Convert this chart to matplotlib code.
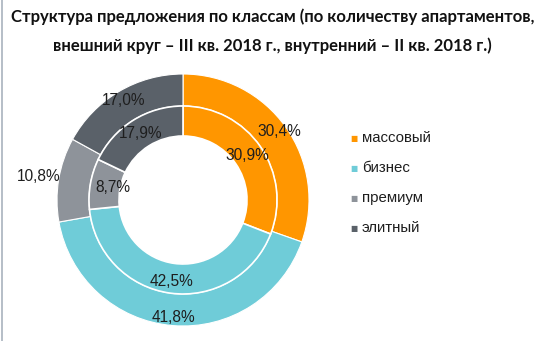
import numpy as np
import matplotlib
matplotlib.use("Agg")
import matplotlib.pyplot as plt
from matplotlib.lines import Line2D

title = "Структура предложения по классам (по количеству апартаментов,\nвнешний круг – III кв. 2018 г., внутренний – II кв. 2018 г.)"
categories = ["массовый", "бизнес", "премиум", "элитный"]
outer_q3 = [30.4, 41.8, 10.8, 17.0]
inner_q2 = [30.9, 42.5, 8.7, 17.9]
colors = ["#FF9600", "#6FCCD8", "#8E939A", "#5A6169"]

W, H = 545, 341
fig = plt.figure(figsize=(W / 100, H / 100), dpi=100)
fig.patch.set_facecolor("white")

# left border line
fig.add_artist(Line2D([1.5 / W, 1.5 / W], [0, 1], color="#A9B3BD", lw=1.2))

fig.text(0.5, 1 - 17 / H, title.split("\n")[0], ha="center", va="center",
         fontsize=12, fontweight="bold", family=["Lato", "DejaVu Sans"], color="#111111")
fig.text(0.5, 1 - 46 / H, title.split("\n")[1], ha="center", va="center",
         fontsize=12, fontweight="bold", family=["Lato", "DejaVu Sans"], color="#111111")

cx, cy, R = 183, 200, 126
ax = fig.add_axes([(cx - R) / W, (H - cy - R) / H, 2 * R / W, 2 * R / H])
r_out, r_mid, r_in = 1.0, 94 / R, 64 / R

ax.pie(outer_q3, radius=r_out, colors=colors, startangle=90, counterclock=False,
       wedgeprops=dict(width=r_out - r_mid, edgecolor="white", linewidth=0.8))
ax.pie(inner_q2, radius=r_mid, colors=colors, startangle=90, counterclock=False,
       wedgeprops=dict(width=r_mid - r_in, edgecolor="white", linewidth=1.2))
ax.set_xlim(-1, 1)
ax.set_ylim(-1, 1)
ax.set_aspect("equal")
ax.axis("off")


def mid_angles(vals):
    vals = np.asarray(vals, dtype=float)
    cum = np.cumsum(vals) / vals.sum() * 360
    start = np.concatenate([[0], cum[:-1]])
    return 90 - (start + cum) / 2


def fmt(v):
    return f"{v:.1f}%".replace(".", ",")

outer_r = [118, 118, 146, 116]
inner_r = [78, 82, 71, 79]
for vals, radii in ((outer_q3, outer_r), (inner_q2, inner_r)):
    for v, a, rr in zip(vals, mid_angles(vals), radii):
        t = np.deg2rad(a)
        ax.text(rr / R * np.cos(t), rr / R * np.sin(t), fmt(v), ha="center", va="center",
                fontsize=11.2, family=["Liberation Sans", "DejaVu Sans"], color="#1E1E1E",
                clip_on=False)

# legend
for i, (c, name) in enumerate(zip(colors, categories)):
    y = 1 - (138 + 30 * i) / H
    fig.text(354 / W, y, "■", ha="center", va="center", fontsize=5.5, color=c,
             family=["DejaVu Sans"])
    fig.text(362 / W, y, name, ha="left", va="center", fontsize=10.8,
             family=["Liberation Sans", "DejaVu Sans"], color="#1E1E1E")

fig.savefig("out.png", dpi=100, facecolor="white")
